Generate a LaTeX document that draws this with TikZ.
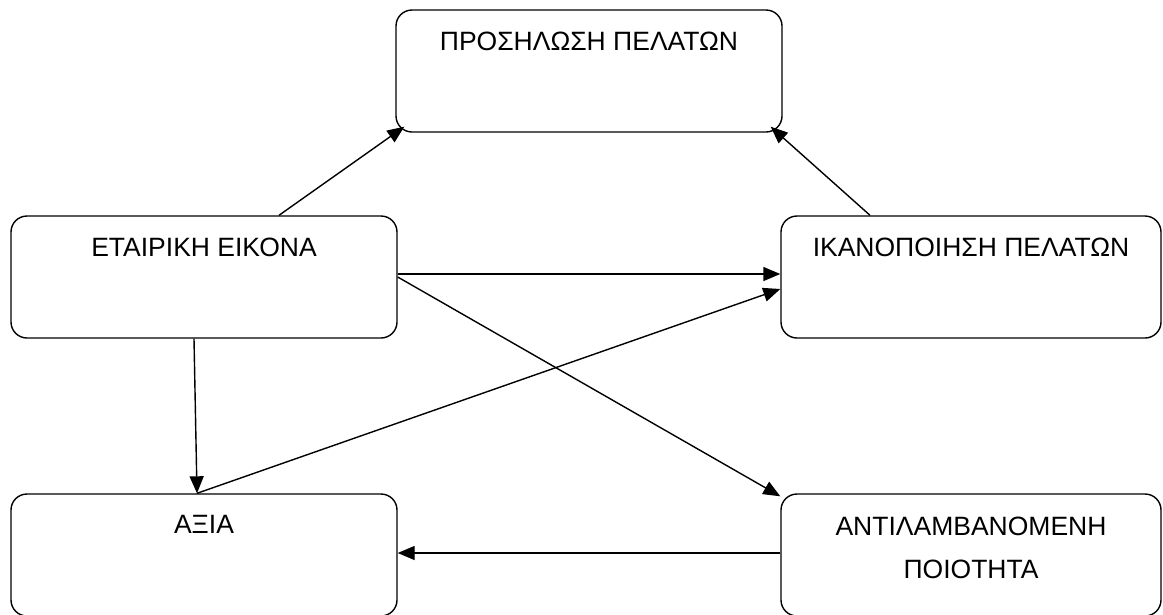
\documentclass[tikz,border=0pt]{standalone}
\usepackage{fontspec}
\setmainfont{Liberation Sans}
\usetikzlibrary{positioning}
\usetikzlibrary{arrows.meta,calc}

\tikzset{
	factor/.style={draw, line width=1.4pt, rounded corners=16pt, minimum width=386pt, minimum height=122pt, inner sep=0pt},
	factortext/.style={font=\fontsize{26.5}{43}\selectfont, align=center, anchor=north, inner sep=0pt},
	link/.style={line width=1.4pt, -{Triangle[length=17pt,width=14pt]}},
}

\begin{document}
\begin{tikzpicture}[x=1pt, y=-1pt]

	% ------------------------------------------------
	% Ensure the dimensions of graphic are appropriate
	\useasboundingbox (0,0) rectangle (1163,614);

	% ------------------------------------------------
	% Relevant coordinates
	\coordinate (PosTop) at (589,71);
	\coordinate (PosLeft) at (204,277);
	\path (PosLeft)  +(767,0) coordinate (PosRight);
	\path (PosLeft)  +(0,278) coordinate (PosLowLeft);
	\path (PosRight) +(0,278) coordinate (PosLowRight);

	% ----------------
	% Boxes
	\node[factor] (prosilosi)   at (PosTop) {};
	\node[factor] (eikona)      at (PosLeft) {};
	\node[factor, minimum width=380pt] (ikanopoiisi) at (PosRight) {};
	\node[factor] (axia)        at (PosLowLeft) {};
	\node[factor, minimum width=380pt] (poiotita)    at (PosLowRight) {};

	% ----------------
	% Texts
	\node[factortext] (prosilosiText)   at ([yshift=-22pt]prosilosi.north) {ΠΡΟΣΗΛΩΣΗ ΠΕΛΑΤΩΝ};
	\node[factortext] (eikonaText)      at ([yshift=-22pt]eikona.north) {ΕΤΑΙΡΙΚΗ ΕΙΚΟΝΑ};
	\node[factortext] (ikanopoiisiText) at ([yshift=-22pt]ikanopoiisi.north) {ΙΚΑΝΟΠΟΙΗΣΗ ΠΕΛΑΤΩΝ};
	\node[factortext] (axiaText)        at ([yshift=-22pt]axia.north) {ΑΞΙΑ};
	\node[factortext] (poiotitaText)    at ([yshift=-23pt]poiotita.north) {ΑΝΤΙΛΑΜΒΑΝΟΜΕΝΗ\\ΠΟΙΟΤΗΤΑ};

	%%%%%%%%%%%%%%%%%%%%%%%%%%%%%%%%%%%%%%%%%
	% Links
	\draw[link] ([xshift=75pt]eikona.north) -- ([xshift=9pt,yshift=6pt]prosilosi.south west);
	\draw[link] ([xshift=-101pt]ikanopoiisi.north) -- ([xshift=-12pt,yshift=6pt]prosilosi.south east);
	\draw[link] ([yshift=3pt]eikona.east) -- ([yshift=3pt]ikanopoiisi.west);
	\draw[link] (eikona.east) -- ([yshift=-3pt]poiotita.north west);
	\draw[link] ([xshift=-7pt]axia.north) -- ([yshift=-12pt]ikanopoiisi.west);
	\draw[link] ([xshift=-10pt]eikona.south) -- ([xshift=-7pt]axia.north);
	\draw[link] ([yshift=2pt]poiotita.west) -- ([yshift=2pt]axia.east);

\end{tikzpicture}
\end{document}
